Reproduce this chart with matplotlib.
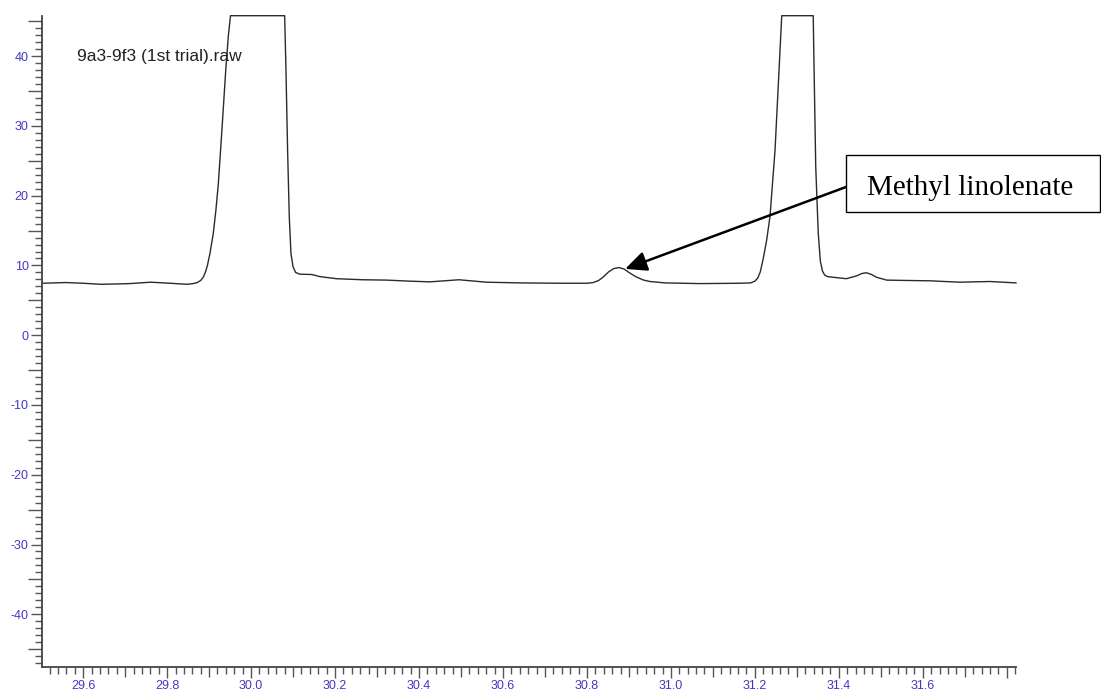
import matplotlib
matplotlib.use("Agg")
import matplotlib.pyplot as plt
from matplotlib.ticker import MultipleLocator, FuncFormatter
from matplotlib.patches import Rectangle

# ---- data (retention time in min, detector signal) ----
time_min = [29.502, 29.530, 29.559, 29.600, 29.642, 29.680, 29.711, 29.761, 29.807,
            29.847, 29.862, 29.872, 29.880, 29.886, 29.891, 29.896, 29.902, 29.910,
            29.916, 29.922, 29.930, 29.940, 29.946, 29.951, 30.080, 30.083, 30.087,
            30.091, 30.095, 30.100, 30.106, 30.116, 30.145, 30.164, 30.204, 30.266,
            30.323, 30.378, 30.426, 30.495, 30.561, 30.640, 30.735, 30.800, 30.815,
            30.828, 30.840, 30.852, 30.864, 30.876, 30.888, 30.900, 30.916, 30.935,
            30.950, 30.986, 31.069, 31.164, 31.190, 31.200, 31.207, 31.213, 31.220,
            31.228, 31.236, 31.248, 31.258, 31.264, 31.339, 31.341, 31.345, 31.351,
            31.356, 31.361, 31.366, 31.373, 31.395, 31.418, 31.442, 31.455, 31.466,
            31.478, 31.490, 31.514, 31.560, 31.617, 31.688, 31.760, 31.822]
signal = [7.45, 7.50, 7.55, 7.45, 7.30, 7.35, 7.40, 7.60, 7.45,
          7.30, 7.40, 7.55, 7.85, 8.30, 9.00, 10.00, 11.70, 14.60,
          17.80, 21.70, 28.90, 38.30, 43.00, 45.80, 45.80, 38.30, 26.50,
          17.00, 11.70, 9.80, 9.00, 8.75, 8.70, 8.40, 8.10, 7.95,
          7.90, 7.75, 7.65, 7.95, 7.60, 7.50, 7.45, 7.45, 7.55,
          7.85, 8.40, 9.10, 9.55, 9.70, 9.50, 9.00, 8.40, 7.90,
          7.70, 7.50, 7.40, 7.45, 7.50, 7.75, 8.20, 9.10, 11.00,
          13.60, 17.00, 26.50, 38.50, 45.80, 45.80, 38.30, 24.10, 14.60,
          10.60, 9.20, 8.65, 8.40, 8.25, 8.10, 8.50, 8.85, 8.95,
          8.70, 8.30, 7.90, 7.85, 7.80, 7.60, 7.70, 7.50]

x_limits = [29.502, 31.822]
y_limits = [-47.6, 45.8]
file_label = "9a3-9f3 (1st trial).raw"
peak_name = "Methyl linolenate"
peak_point = [30.891, 9.5]

W, H = 1101, 691
fig = plt.figure(figsize=(W / 100, H / 100), dpi=100)
ax = fig.add_axes([42 / W, (H - 667.3) / H, (1016 - 42) / W, (667.3 - 15.7) / H])

ax.plot(time_min, signal, color="#2b2b2b", lw=1.0, clip_on=False)
ax.set_xlim(*x_limits)
ax.set_ylim(*y_limits)

for s in ("top", "right"):
    ax.spines[s].set_visible(False)
for s in ("left", "bottom"):
    ax.spines[s].set_color("#444444")
    ax.spines[s].set_linewidth(1.3)

ax.xaxis.set_major_locator(MultipleLocator(0.1))
ax.xaxis.set_minor_locator(MultipleLocator(0.02))
ax.yaxis.set_major_locator(MultipleLocator(5))
ax.yaxis.set_minor_locator(MultipleLocator(1))


def xfmt(v, pos):
    k = round(v * 10)
    if k % 2 != 0 or v > 31.7:
        return ""
    return f"{v:.1f}"


def yfmt(v, pos):
    k = round(v)
    return f"{k:d}" if k % 10 == 0 else ""


ax.xaxis.set_major_formatter(FuncFormatter(xfmt))
ax.yaxis.set_major_formatter(FuncFormatter(yfmt))

lab_color = "#4338c4"
ax.tick_params(axis="both", which="major", direction="out", length=8.0, width=1.0,
               color="#555555", labelsize=9, labelcolor=lab_color, pad=1.5)
ax.tick_params(axis="x", which="major", pad=0.8)
ax.tick_params(axis="both", which="minor", direction="out", length=5.0, width=1.0,
               color="#555555")
for lab in ax.get_xticklabels() + ax.get_yticklabels():
    lab.set_family(["Liberation Sans", "DejaVu Sans"])

# medium-length ticks at unlabeled major positions (y every 5, x every 0.1)
for t in ax.yaxis.get_major_ticks():
    loc = t.get_loc()
    if round(loc) % 10 != 0:
        t.tick1line.set_markersize(10.0)
for t in ax.xaxis.get_major_ticks():
    loc = t.get_loc()
    if round(loc * 10) % 2 != 0:
        t.tick1line.set_markersize(7.5)

fig.text(77 / W, 1 - 61 / H, file_label, fontsize=12.5, color="#222222",
         family=["Liberation Sans", "DejaVu Sans"], ha="left", va="baseline")

# annotation box
box = Rectangle((846 / W, 1 - 211.7 / H), (1099.5 - 846) / W, (211.7 - 155) / H,
                transform=fig.transFigure, facecolor="white", edgecolor="black",
                lw=1.0, zorder=5)
fig.patches.append(box)
fig.text(867 / W, 1 - 195 / H, peak_name, fontsize=21, color="black",
         family=["Liberation Serif", "DejaVu Serif"], ha="left", va="baseline", zorder=6)

ax.annotate("", xy=tuple(peak_point), xycoords="data",
            xytext=(846, H - 187), textcoords="figure pixels",
            arrowprops=dict(arrowstyle="-|>,head_length=0.65,head_width=0.3",
                            mutation_scale=20, lw=1.8, color="black",
                            shrinkA=0, shrinkB=0),
            annotation_clip=False)

fig.savefig("out.png", dpi=100, facecolor="white")
